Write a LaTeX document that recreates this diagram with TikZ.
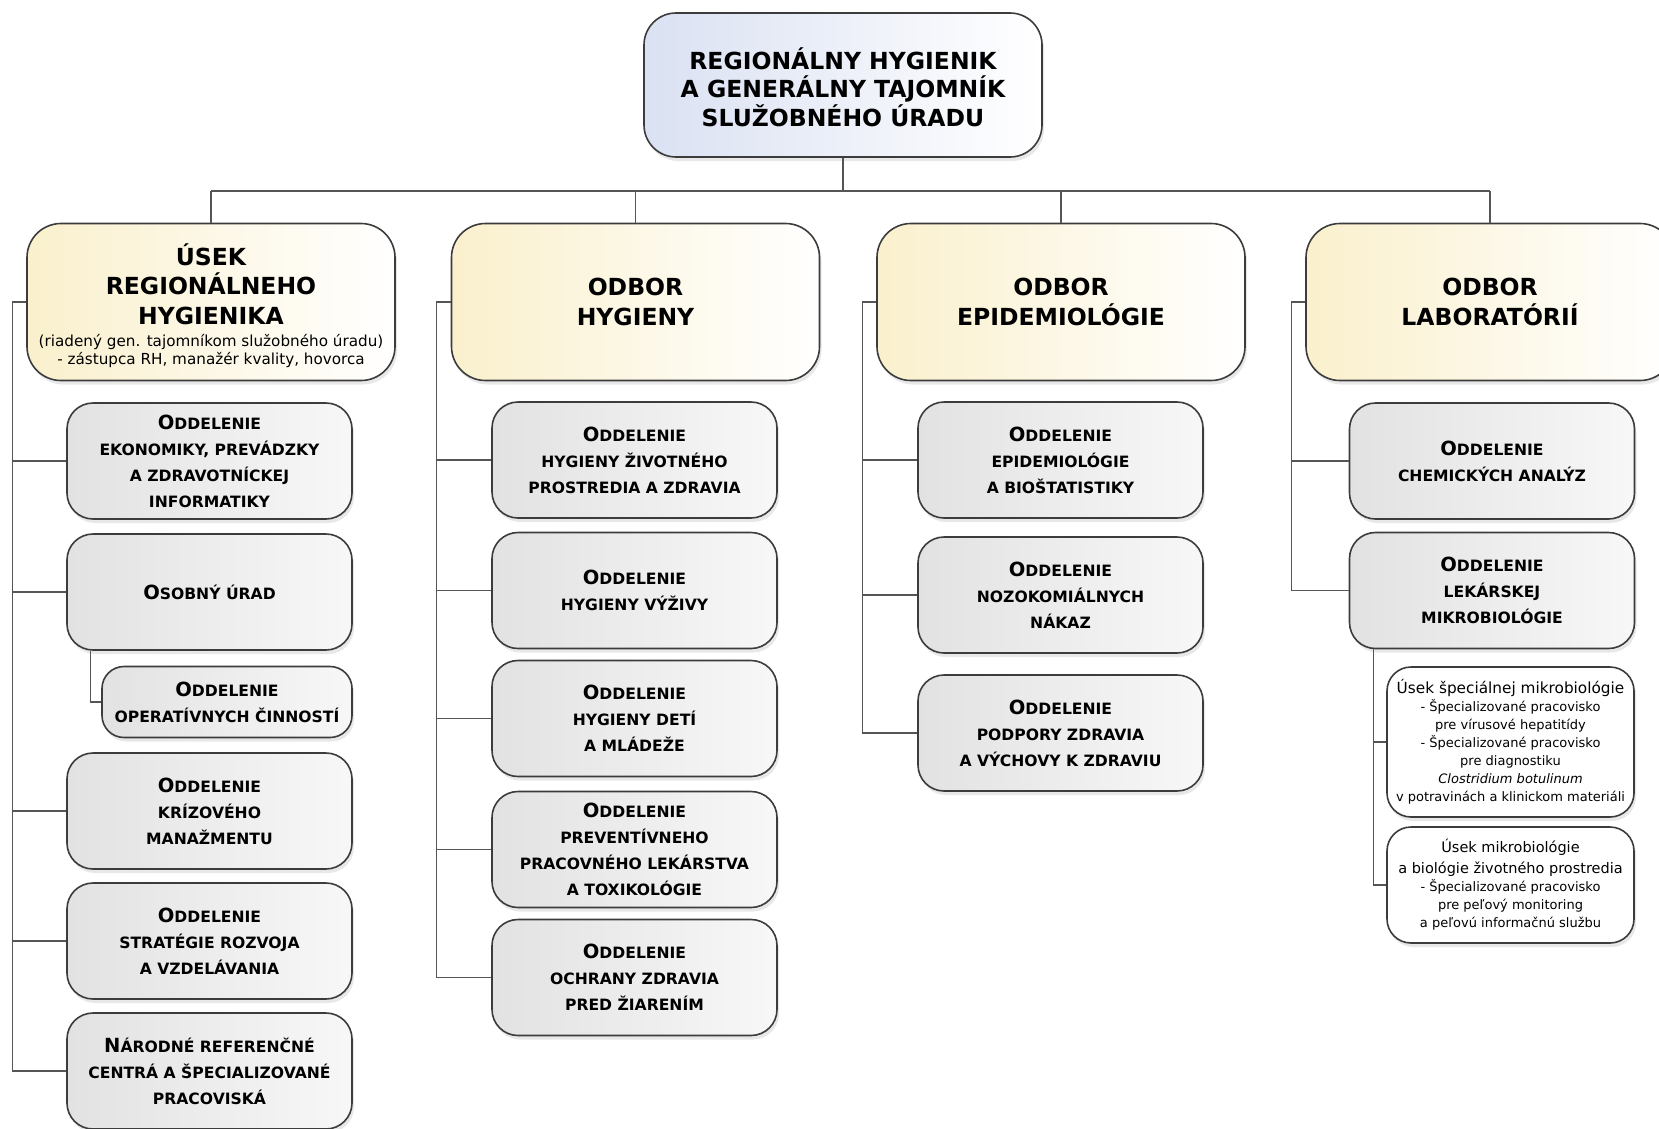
\documentclass[tikz,border=0pt]{standalone}
\usepackage{fontspec}
\setmainfont{DejaVu Sans}
\usetikzlibrary{positioning,shadows}
\tikzset{>=latex}
\definecolor{boxline}{RGB}{60,60,60}
\definecolor{wireline}{RGB}{85,85,85}
\definecolor{topfill}{RGB}{218,225,242}
\definecolor{headfill}{RGB}{250,240,205}
\definecolor{deptfill}{RGB}{226,226,226}
\newcommand{\initial}[1]{{\fontsize{19.5}{26}\selectfont #1}}
\newcommand{\unitlead}[2][14.5]{{\fontsize{#1}{18}\selectfont #2}}
\tikzset{
  box/.style={draw=boxline, line width=1.6pt, align=center,
    drop shadow={opacity=.18, shadow xshift=2pt, shadow yshift=-4pt}},
  topbox/.style={box, rounded corners=32pt, minimum width=398pt, minimum height=144pt,
    left color=topfill, right color=white, font=\fontsize{23.5}{28.5}\selectfont\bfseries},
  headbox/.style={box, rounded corners=34pt, minimum width=368pt, minimum height=157pt,
    left color=headfill, right color=white, font=\fontsize{23.5}{29.5}\selectfont\bfseries},
  headtext/.style={align=center, font=\fontsize{23.5}{29.5}\selectfont\bfseries},
  notetext/.style={align=center, font=\fontsize{15.2}{18}\selectfont},
  deptbox/.style={box, rounded corners=26pt, minimum width=285pt, minimum height=116pt,
    left color=deptfill, right color=white!97!black, font=\fontsize{15.6}{26}\selectfont\bfseries},
  unitbox/.style={box, rounded corners=24pt, minimum width=247pt, inner sep=2pt,
    fill=white, font=\fontsize{13}{18}\selectfont},
  wire/.style={draw=wireline, line width=1.4pt}
}

\begin{document}
\begin{tikzpicture}[x=1pt, y=-1pt]
  \path[use as bounding box, fill=white] (0,0) rectangle (1659,1128);
  \def\cA{209.5}  % column centres
  \def\cB{634.5}
  \def\cC{1060.5}
  \def\cD{1492}
  % top
  \node[topbox] (rh) at (843,85) {\rule{0pt}{26pt}REGIONÁLNY HYGIENIK\\A GENERÁLNY TAJOMNÍK\\SLUŽOBNÉHO ÚRADU};
  % second level
  \node[headbox] (usek) at (211,302) {};
  \node[headtext] (usektitle) at (211,284) {ÚSEK\\REGIONÁLNEHO\\HYGIENIKA};
  \node[notetext] (useknote) at (211,351) {(riadený gen. tajomníkom služobného úradu)\\- zástupca RH, manažér kvality, hovorca};
  \node[headbox] (hyg) at (635.5,302) {ODBOR\\HYGIENY};
  \node[headbox] (epi) at (1061,302) {ODBOR\\EPIDEMIOLÓGIE};
  \node[headbox] (lab) at (1490,302) {ODBOR\\LABORATÓRIÍ};
  %
  \coordinate (bus) at (843,191);
  \draw[wire] (rh) -- (bus);
  \draw[wire] (bus -| usek) -- (bus -| lab);
  \foreach \n in {usek,hyg,epi,lab} {%
    \draw[wire] (bus -| \n) -- (\n);
  }
  % column 1
  \node[deptbox] (ekon) at (\cA,461) {\initial{O}DDELENIE\\EKONOMIKY, PREVÁDZKY\\A ZDRAVOTNÍCKEJ\\INFORMATIKY};
  \node[deptbox] (osob) at (\cA,592) {\initial{O}SOBNÝ ÚRAD};
  \node[deptbox, minimum width=250pt, minimum height=71pt, rounded corners=22pt] (oper) at (227,702) {\initial{O}DDELENIE\\OPERATÍVNYCH ČINNOSTÍ};
  \node[deptbox] (krizo) at (\cA,811) {\initial{O}DDELENIE\\KRÍZOVÉHO\\MANAŽMENTU};
  \node[deptbox] (strat) at (\cA,941) {\initial{O}DDELENIE\\STRATÉGIE ROZVOJA\\A VZDELÁVANIA};
  \node[deptbox] (narod) at (\cA,1071) {\initial{N}ÁRODNÉ REFERENČNÉ\\CENTRÁ A ŠPECIALIZOVANÉ\\PRACOVISKÁ};
  % column 2
  \node[deptbox] (hyzp) at (\cB,460) {\initial{O}DDELENIE\\HYGIENY ŽIVOTNÉHO\\PROSTREDIA A ZDRAVIA};
  \node[deptbox] (vyziv) at (\cB,590.5) {\initial{O}DDELENIE\\HYGIENY VÝŽIVY};
  \node[deptbox] (deti) at (\cB,718.5) {\initial{O}DDELENIE\\HYGIENY DETÍ\\A MLÁDEŽE};
  \node[deptbox] (prev) at (\cB,849.5) {\initial{O}DDELENIE\\PREVENTÍVNEHO\\PRACOVNÉHO LEKÁRSTVA\\A TOXIKOLÓGIE};
  \node[deptbox] (ochr) at (\cB,977.5) {\initial{O}DDELENIE\\OCHRANY ZDRAVIA\\PRED ŽIARENÍM};
  % column 3
  \node[deptbox] (epib) at (\cC,460) {\initial{O}DDELENIE\\EPIDEMIOLÓGIE\\A BIOŠTATISTIKY};
  \node[deptbox] (nozo) at (\cC,595) {\initial{O}DDELENIE\\NOZOKOMIÁLNYCH\\NÁKAZ};
  \node[deptbox] (podp) at (\cC,733) {\initial{O}DDELENIE\\PODPORY ZDRAVIA\\A VÝCHOVY K ZDRAVIU};
  % column 4
  \node[deptbox] (chem) at (\cD,461) {\initial{O}DDELENIE\\CHEMICKÝCH ANALÝZ};
  \node[deptbox] (lek) at (\cD,590.5) {\initial{O}DDELENIE\\LEKÁRSKEJ\\MIKROBIOLÓGIE};
  \node[unitbox, minimum height=150pt] (spec) at (1510.5,742) {\unitlead[15.3]{Úsek špeciálnej mikrobiológie}\\- Špecializované pracovisko\\pre vírusové hepatitídy\\- Špecializované pracovisko\\pre diagnostiku\\\textit{Clostridium botulinum}\\v potravinách a klinickom materiáli};
  \node[unitbox, minimum height=116pt] (envi) at (1510.5,885) {\unitlead{Úsek mikrobiológie}\\[3pt]\unitlead{a biológie životného prostredia}\\- Špecializované pracovisko\\pre peľový monitoring\\a peľovú informačnú službu};
  %
  % left-hand buses
  \coordinate (busA) at ([xshift=-14pt]usek.west);
  \coordinate (busB) at ([xshift=-14pt]hyg.west);
  \coordinate (busC) at ([xshift=-14pt]epi.west);
  \coordinate (busD) at ([xshift=-14pt]lab.west);
  \draw[wire] (usek.west) -- (busA) |- (narod.west);
  \draw[wire] (hyg.west) -- (busB) |- (ochr.west);
  \draw[wire] (epi.west) -- (busC) |- (podp.west);
  \draw[wire] (lab.west) -- (busD) |- (lek.west);
  \foreach \n in {ekon,osob,krizo,strat} \draw[wire] (\n.west) -- (busA |- \n.west);
  \foreach \n in {hyzp,vyziv,deti,prev} \draw[wire] (\n.west) -- (busB |- \n.west);
  \foreach \n in {epib,nozo} \draw[wire] (\n.west) -- (busC |- \n.west);
  \draw[wire] (chem.west) -- (busD |- chem.west);
  % sub-units
  \coordinate (operbus) at ([xshift=24pt]osob.south west);
  \draw[wire] (operbus) |- (oper.west);
  \coordinate (lekbus) at ([xshift=25pt]lek.south west);
  \draw[wire] (lekbus) |- (envi.west);
  \draw[wire] (spec.west) -- (lekbus |- spec.west);
\end{tikzpicture}
\end{document}
